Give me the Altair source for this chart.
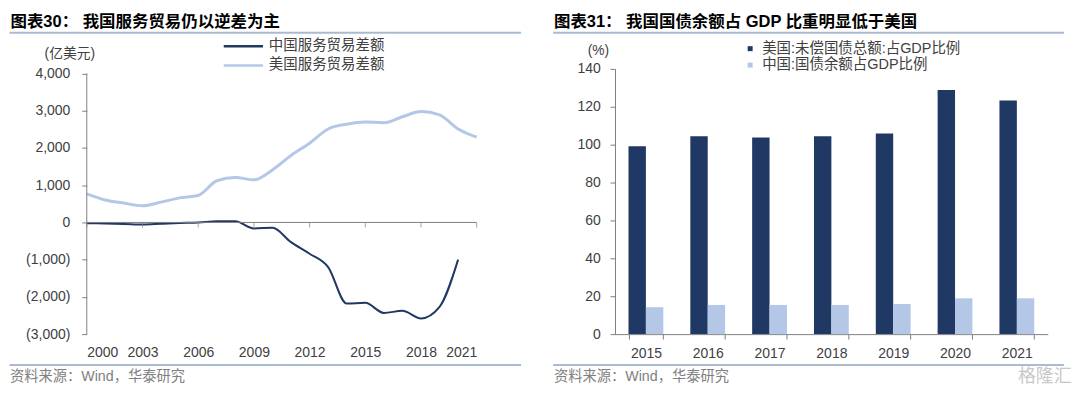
import altair as alt
import pandas as pd

# ---------------- Left chart data ----------------
china_years = list(range(2000, 2021))
china_services = [-20, -30, -40, -55, -35, -15, 0, 30, 35, -160, -145, -530, -840,
                  -1200, -2180, -2160, -2430, -2375, -2580, -2270, -1000]
us_years = list(range(2000, 2022))
us_services = [770, 605, 520, 446, 545, 660, 723, 1120, 1210, 1145, 1410, 1800, 2130,
               2510, 2640, 2700, 2680, 2840, 2980, 2890, 2510, 2290]
left_series = ["中国服务贸易差额", "美国服务贸易差额"]
left_xticks = [2000, 2003, 2006, 2009, 2012, 2015, 2018, 2021]
left_yticks = [-3000, -2000, -1000, 0, 1000, 2000, 3000, 4000]
left_title = "图表30： 我国服务贸易仍以逆差为主"
left_unit = "(亿美元)"

# ---------------- Right chart data ----------------
bar_years = ["2015", "2016", "2017", "2018", "2019", "2020", "2021"]
us_debt = [99.1, 104.4, 103.8, 104.4, 105.9, 128.9, 123.3]
china_debt = [14.2, 15.4, 15.4, 15.4, 15.9, 18.9, 18.9]
right_series = ["美国:未偿国债总额:占GDP比例", "中国:国债余额占GDP比例"]
right_yticks = [0, 20, 40, 60, 80, 100, 120, 140]
right_title = "图表31： 我国国债余额占 GDP 比重明显低于美国"
right_unit = "(%)"

source_text = "资料来源：Wind，华泰研究"
watermark = "格隆汇"

DARK = "#203864"
LIGHT = "#B4C7E7"
AXIS = "#7F7F7F"
SEP = "#A9BBD1"
FONT = "Liberation Sans, Noto Sans CJK SC"

line_df = pd.concat([
    pd.DataFrame({"year": china_years, "value": china_services, "series": left_series[0]}),
    pd.DataFrame({"year": us_years, "value": us_services, "series": left_series[1]}),
])
tick_df = pd.DataFrame({"year": left_xticks})

bar_df = pd.concat([
    pd.DataFrame({"year": bar_years, "value": us_debt, "series": right_series[0]}),
    pd.DataFrame({"year": bar_years, "value": china_debt, "series": right_series[1]}),
])


def txt(text, x, y, size, color, weight="normal", align="left"):
    return alt.Chart(pd.DataFrame({"t": [text]})).mark_text(
        align=align, baseline="middle", fontSize=size, font=FONT,
        fontWeight=weight, color=color
    ).encode(x=alt.value(x), y=alt.value(y), text="t:N")


def hrule(x1, x2, y, color=SEP, width=2):
    return alt.Chart(pd.DataFrame({"a": [0]})).mark_rule(
        color=color, strokeWidth=width
    ).encode(x=alt.value(x1), x2=alt.value(x2), y=alt.value(y))


# ---------------- Left panel ----------------
LW, LH = 391, 266
xscale_l = alt.Scale(domain=[2000, 2021], nice=False, zero=False)
yscale_l = alt.Scale(domain=[-3000, 4126], nice=False, zero=False)
xaxis_l = alt.Axis(values=left_xticks, format="d", domain=False, ticks=False,
                   tickSize=0, labelPadding=11.5, title=None, grid=False,
                   labelOverlap=False)
yaxis_l = alt.Axis(values=left_yticks, tickSize=5, labelPadding=12, grid=False,
                   title=None, domain=False, labelOverlap=False, labelBound=False,
                   labelExpr="datum.value < 0 ? '(' + format(-datum.value, ',') + ')' : format(datum.value, ',')")

lines = alt.Chart(line_df).mark_line(interpolate="monotone").encode(
    x=alt.X("year:Q", scale=xscale_l, axis=xaxis_l),
    y=alt.Y("value:Q", scale=yscale_l, axis=yaxis_l),
    color=alt.Color("series:N", scale=alt.Scale(domain=left_series, range=[DARK, LIGHT]),
                    legend=alt.Legend(orient="none", legendX=149.8, legendY=-30,
                                      title=None, symbolType="M-3.94,0H3.94", symbolSize=100,
                                      symbolStrokeWidth=2.5, labelOffset=18.3, rowPadding=4.3,
                                      padding=0, labelFontSize=14.5, labelFont=FONT,
                                      labelColor="#404040", labelLimit=400)),
    strokeWidth=alt.StrokeWidth("series:N", scale=alt.Scale(domain=left_series, range=[2, 3]),
                                legend=None),
)
one = pd.DataFrame({"a": [0]})
zero_rule = alt.Chart(one).mark_rule(color=AXIS, strokeWidth=1).encode(
    y=alt.Y(datum=0, scale=yscale_l, axis=yaxis_l))
y_domain_rule = alt.Chart(one).mark_rule(color=AXIS, strokeWidth=1).encode(
    x=alt.X(datum=2000, scale=xscale_l, axis=xaxis_l),
    y=alt.Y(datum=-3000, scale=yscale_l, axis=yaxis_l), y2=alt.Y2(datum=4000))
zero_ticks = alt.Chart(tick_df).mark_tick(orient="vertical", size=5, thickness=1,
                                          yOffset=2.5, color=AXIS).encode(
    x=alt.X("year:Q", scale=xscale_l, axis=xaxis_l),
    y=alt.Y(datum=0, scale=yscale_l, axis=yaxis_l))

left = alt.layer(
    lines, zero_rule, y_domain_rule, zero_ticks,
    txt(left_title, -76.5, -46.5, 16.5, "#000000", weight="bold"),
    hrule(-77.5, 435.5, -36.2),
    txt(left_unit, -17, -15, 13.8, "#404040", align="center"),
    hrule(-77.5, 435.5, 297),
    txt(source_text, -77, 309, 14.3, "#808080"),
).properties(width=LW, height=LH)

# ---------------- Right panel ----------------
RW, RH = 434, 266
bars = alt.Chart(bar_df).mark_bar().encode(
    x=alt.X("year:N", sort=bar_years,
            scale=alt.Scale(paddingInner=0.437, paddingOuter=0.2185),
            axis=alt.Axis(tickBand="extent", labelAngle=0, tickSize=5, labelPadding=7,
                          title=None, grid=False)),
    xOffset=alt.XOffset("series:N", sort=right_series,
                        scale=alt.Scale(paddingInner=0, paddingOuter=0)),
    y=alt.Y("value:Q", scale=alt.Scale(domain=[0, 140], nice=False),
            axis=alt.Axis(values=right_yticks, tickSize=5, labelPadding=9.7, grid=False,
                          title=None, labelOverlap=False)),
    color=alt.Color("series:N", scale=alt.Scale(domain=right_series, range=[DARK, LIGHT]),
                    legend=alt.Legend(orient="none", legendX=128.3, legendY=-27.5, title=None,
                                      symbolType="square", symbolSize=25, labelOffset=4.8,
                                      rowPadding=1.5, padding=0, labelFontSize=14.5,
                                      labelFont=FONT, labelColor="#404040", labelLimit=400)),
)

right = alt.layer(
    bars,
    txt(right_title, -61.2, -46.5, 16.5, "#000000", weight="bold"),
    hrule(-62, 450.3, -36.2),
    txt(right_unit, -16.7, -18, 13.8, "#404040", align="center"),
    hrule(-62, 450.3, 297),
    txt(source_text, -61.2, 309, 14.3, "#808080"),
    txt(watermark, 458, 309, 18, "#C8C8C8", align="right"),
).properties(width=RW, height=RH)

chart = alt.hconcat(left, right, spacing=29.7).resolve_scale(
    color="independent", x="independent", y="independent"
).resolve_legend(color="independent").properties(
    padding={"left": 0, "top": 5.5, "right": 0, "bottom": 0}
).configure_view(stroke=None).configure_axis(
    labelFont="Liberation Sans", labelFontSize=14, labelColor="#404040",
    domainColor=AXIS, tickColor=AXIS, grid=False, labelOverlap=False
)

chart.save("out.html", embed_options={"renderer": "svg", "actions": False})
